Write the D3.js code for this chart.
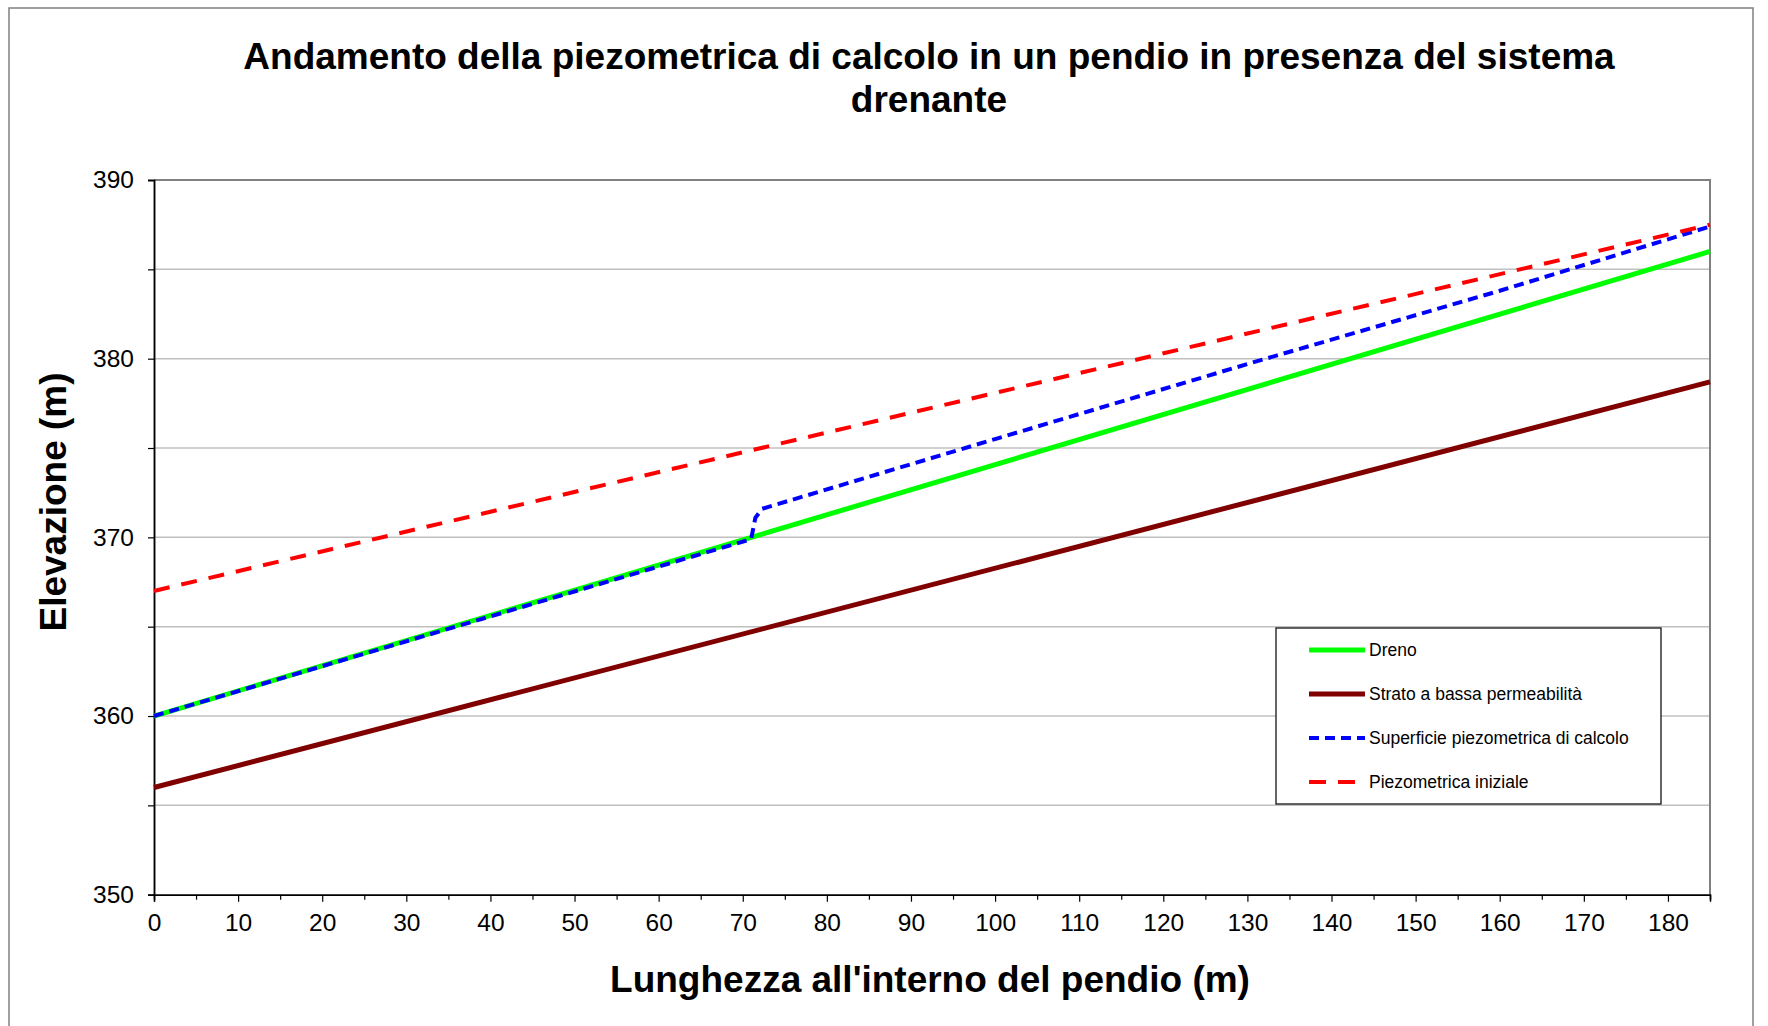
<!DOCTYPE html>
<html>
<head>
<meta charset="utf-8">
<script src="https://cdn.jsdelivr.net/npm/d3@7"></script>
<style>
  body { margin: 0; background: #fff; }
  svg { display: block; font-family: "Liberation Sans", Arial, sans-serif; }
</style>
</head>
<body>
<script>
// data
var drenoX = [0, 71, 185];
var drenoY = [360, 370, 386];
var stratoX = [0, 185];
var stratoY = [356, 378.7];
var calcoloX = [0, 71, 71.5, 72.3, 100, 130, 160, 185];
var calcoloY = [360, 369.9, 371.1, 371.6, 375.5, 379.7, 383.8, 387.4];
var inizialeX = [0, 185];
var inizialeY = [367, 387.5];

var xTicks = [0, 10, 20, 30, 40, 50, 60, 70, 80, 90, 100, 110, 120, 130, 140, 150, 160, 170, 180];
var yTicks = [350, 360, 370, 380, 390];
var gridY = [355, 360, 365, 370, 375, 380, 385];

var series = [
    { name: "Dreno", xs: drenoX, ys: drenoY, color: "#00ff00", width: 5, dash: null },
    { name: "Strato a bassa permeabilità", xs: stratoX, ys: stratoY, color: "#800000", width: 5, dash: null },
    { name: "Superficie piezometrica di calcolo", xs: calcoloX, ys: calcoloY, color: "#0000ff", width: 4, dash: "10,6" },
    { name: "Piezometrica iniziale", xs: inizialeX, ys: inizialeY, color: "#ff0000", width: 4, dash: "16,12" }
];

var W = 1768, H = 1026;
var svg = d3.select("body").append("svg")
    .attr("width", W)
    .attr("height", H)

// outer frame
svg.append("rect")
    .attr("x", 9).attr("y", 8)
    .attr("width", 1744).attr("height", 1040)
    .attr("fill", "none")
    .attr("stroke", "#808080")
    .attr("stroke-width", 1.5)

var x = d3.scaleLinear().domain([0, 185]).range([154, 1710]);
var y = d3.scaleLinear().domain([350, 390]).range([894.7, 180]);

// gridlines
svg.append("g").selectAll("line")
    .data(gridY)
    .enter().append("line")
    .attr("x1", x(0)).attr("x2", x(185))
    .attr("y1", d => y(d)).attr("y2", d => y(d))
    .attr("stroke", "#c0c0c0")
    .attr("stroke-width", 1.5)

// plot border top / right
svg.append("path")
    .attr("d", "M" + x(0) + "," + y(390) + "H" + x(185) + "V" + y(350))
    .attr("fill", "none")
    .attr("stroke", "#808080")
    .attr("stroke-width", 2)

// axes
var xAxis = d3.axisBottom(x).tickValues(xTicks).tickSize(7).tickPadding(12).tickFormat(d3.format("d"));
var xMinor = d3.axisBottom(x).tickValues(d3.range(5, 185, 10)).tickSize(5).tickFormat("");
var yAxis = d3.axisLeft(y).tickValues(yTicks).tickSize(6).tickPadding(14).tickFormat(d3.format("d"));
var yMinor = d3.axisLeft(y).tickValues([355, 365, 375, 385]).tickSize(6).tickFormat("");

function styleAxis(g) {
    g.select(".domain").attr("stroke", "#000").attr("stroke-width", 1.5);
    g.selectAll(".tick line").attr("stroke", "#000").attr("stroke-width", 1.2);
    g.selectAll("text").attr("fill", "#000").attr("font-size", 24.5)
        .attr("font-family", "'Liberation Sans', Arial, sans-serif");
}

svg.append("g").attr("transform", "translate(0," + y(350) + ")").call(xMinor).call(styleAxis);
svg.append("g").attr("transform", "translate(0," + y(350) + ")").call(xAxis).call(styleAxis);
svg.append("g").attr("transform", "translate(" + x(0) + ",0)").call(yMinor).call(styleAxis);
svg.append("g").attr("transform", "translate(" + x(0) + ",0)").call(yAxis).call(styleAxis);

// lines
var line = d3.line().x(d => x(d[0])).y(d => y(d[1]));
series.forEach(function(s) {
    var pts = s.xs.map((v, i) => [v, s.ys[i]]);
    var p = svg.append("path")
        .datum(pts)
        .attr("d", line)
        .attr("fill", "none")
        .attr("stroke", s.color)
        .attr("stroke-width", s.width)
        .attr("stroke-linejoin", "round")
    if (s.dash) p.attr("stroke-dasharray", s.dash);
});

// title
var title = svg.append("text")
    .attr("x", 929)
    .attr("text-anchor", "middle")
    .attr("font-weight", "bold")
    .attr("font-size", 37)
    .attr("fill", "#000")
title.append("tspan").attr("x", 929).attr("y", 69).text("Andamento della piezometrica di calcolo in un pendio in presenza del sistema");
title.append("tspan").attr("x", 929).attr("y", 112).text("drenante");

// axis titles
svg.append("text")
    .attr("x", 930).attr("y", 992)
    .attr("text-anchor", "middle")
    .attr("font-weight", "bold")
    .attr("font-size", 37)
    .text("Lunghezza all'interno del pendio (m)")

svg.append("text")
    .attr("transform", "translate(66,502) rotate(-90)")
    .attr("text-anchor", "middle")
    .attr("font-weight", "bold")
    .attr("font-size", 37)
    .text("Elevazione (m)")

// legend
var legend = svg.append("g");
legend.append("rect")
    .attr("x", 1276).attr("y", 628)
    .attr("width", 385).attr("height", 176)
    .attr("fill", "#fff")
    .attr("stroke", "#000")
    .attr("stroke-width", 1.2)

series.forEach(function(s, i) {
    var ly = 650 + i * 44;
    var l = legend.append("line")
        .attr("x1", 1309).attr("x2", 1365)
        .attr("y1", ly).attr("y2", ly)
        .attr("stroke", s.color)
        .attr("stroke-width", s.width)
    if (s.dash) l.attr("stroke-dasharray", i == 2 ? "10,6" : "17,12");
    legend.append("text")
        .attr("x", 1369).attr("y", ly + 6)
        .attr("font-size", 17.5)
        .text(s.name)
});
</script>
</body>
</html>
